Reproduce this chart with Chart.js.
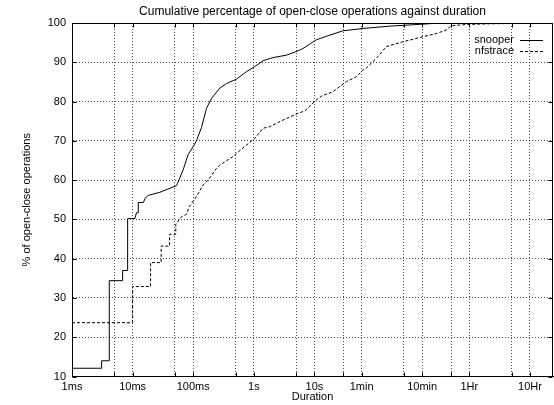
<!DOCTYPE html>
<html><head><meta charset="utf-8">
<script src="https://cdn.jsdelivr.net/npm/chart.js@4/dist/chart.umd.min.js"></script>
<style>html,body{margin:0;padding:0;background:#fff;}</style>
</head><body>
<canvas id="c" width="554" height="405"></canvas>
<script>
// Durations in seconds, percentages cumulative
const snooperDuration = [0.001, 0.00308, 0.00308, 0.00412, 0.00412, 0.00684, 0.00684, 0.00828, 0.00828, 0.0109, 0.0116, 0.0124, 0.0124, 0.0150, 0.0162, 0.0179, 0.0282, 0.0531, 0.0551, 0.0682, 0.0824, 0.0995, 0.113, 0.137, 0.166, 0.200, 0.274, 0.354, 0.516, 0.755, 1.035, 1.42, 2.07, 3.44, 5.35, 6.47, 10.7, 17.8, 29.4, 63.0, 173, 612, 1156, 86400];
const snooperPercent = [12.1, 12.1, 14.0, 14.0, 34.4, 34.4, 37.0, 37.0, 50.2, 50.2, 51.7, 51.7, 54.3, 54.3, 55.4, 56.1, 56.9, 58.6, 59.2, 62.6, 66.5, 68.5, 70.0, 73.4, 78.3, 80.8, 83.4, 84.6, 85.7, 87.6, 88.9, 90.4, 91.2, 91.8, 92.9, 93.5, 95.7, 96.9, 98.0, 98.6, 99.2, 99.7, 100, 100];
const nfstraceDuration = [0.001, 0.01, 0.01, 0.0198, 0.0198, 0.0296, 0.0296, 0.0407, 0.0407, 0.0516, 0.0516, 0.0641, 0.0776, 0.0855, 0.113, 0.146, 0.176, 0.242, 0.274, 0.454, 0.516, 0.855, 1.035, 1.42, 1.83, 3.03, 5.35, 6.90, 10.7, 13.5, 20.2, 33.6, 49.0, 63.0, 71.6, 111, 153, 287, 612, 1019, 1489, 1799, 3177, 7691, 86400];
const nfstracePercent = [23.7, 23.7, 32.9, 32.9, 39.0, 39.0, 43.2, 43.2, 46.2, 46.2, 48.8, 50.7, 51.3, 53.2, 55.8, 58.8, 60.0, 63.0, 63.8, 66.0, 66.8, 69.6, 70.6, 73.2, 73.6, 75.3, 77.0, 77.6, 80.4, 81.5, 82.5, 85.1, 86.3, 88.0, 88.5, 91.4, 94.0, 95.2, 96.5, 97.3, 98.2, 99.3, 99.6, 99.8, 100];

const xTickValues = [0.001, 0.005, 0.01, 0.05, 0.1, 0.5, 1, 5, 10, 30, 60, 300, 600, 1800, 3600, 18000, 36000];
const xTickLabels = ['1ms', '', '10ms', '', '100ms', '', '1s', '', '10s', '', '1min', '', '10min', '', '1Hr', '', '10Hr'];
const xMin = 0.001, xMax = 86400;
const yMin = 10, yMax = 100, yStep = 10;

const seriesNames = ['snooper', 'nfstrace'];
const titleText = 'Cumulative percentage of open-close operations against duration';
const xTitle = 'Duration';
const yTitle = '% of open-close operations';

Chart.defaults.font.family = '"Liberation Sans", Arial, Helvetica, sans-serif';
Chart.defaults.font.size = 11;
Chart.defaults.color = '#000';

const toPoints = (xs, ys) => xs.map((x, i) => ({x: x, y: ys[i]}));

const framePlugin = {
  id: 'frame',
  afterDraw(chart) {
    const ctx = chart.ctx, a = chart.chartArea;
    const xs = chart.scales.x, ys = chart.scales.y;
    ctx.save();
    ctx.strokeStyle = '#000';
    ctx.lineWidth = 1;
    ctx.setLineDash([]);
    const L = Math.round(a.left) + 0.5, R = Math.round(a.right) - 0.5;
    const T = Math.round(a.top) + 0.5, B = Math.round(a.bottom) - 0.5;
    ctx.beginPath();
    ctx.rect(L, T, R - L, B - T);
    ctx.stroke();
    const tl = 4;
    ctx.beginPath();
    xs.ticks.forEach(t => {
      const px = Math.round(xs.getPixelForValue(t.value)) + 0.5;
      ctx.moveTo(px, B); ctx.lineTo(px, B - tl);
      ctx.moveTo(px, T); ctx.lineTo(px, T + tl);
    });
    ys.ticks.forEach(t => {
      const py = Math.round(ys.getPixelForValue(t.value)) + 0.5;
      ctx.moveTo(L, py); ctx.lineTo(L + tl, py);
      ctx.moveTo(R, py); ctx.lineTo(R - tl, py);
    });
    ctx.stroke();
    // title centred over the plot area
    ctx.fillStyle = '#000';
    ctx.font = '12px "Liberation Sans", Arial, sans-serif';
    ctx.textAlign = 'center';
    ctx.textBaseline = 'middle';
    ctx.fillText(titleText, (a.left + a.right) / 2, 12);
    // legend (gnuplot style: right-aligned text with sample line to the right)
    ctx.font = '11px "Liberation Sans", Arial, sans-serif';
    ctx.textAlign = 'right';
    chart.data.datasets.forEach((ds, i) => {
      const y = a.top + 17 + i * 10.5;
      ctx.fillText(ds.label, a.right - 39, y);
      ctx.beginPath();
      ctx.setLineDash(ds.borderDash || []);
      ctx.lineWidth = ds.borderWidth;
      ctx.strokeStyle = ds.borderColor;
      ctx.moveTo(a.right - 33, Math.round(y) + 0.5);
      ctx.lineTo(a.right - 10, Math.round(y) + 0.5);
      ctx.stroke();
    });
    ctx.restore();
  }
};

new Chart(document.getElementById('c'), {
  type: 'line',
  data: {
    datasets: [
      {label: seriesNames[0], data: toPoints(snooperDuration, snooperPercent), borderColor: '#000', borderWidth: 1, pointRadius: 0, tension: 0, fill: false},
      {label: seriesNames[1], data: toPoints(nfstraceDuration, nfstracePercent), borderColor: '#000', borderWidth: 1, borderDash: [3, 2], pointRadius: 0, tension: 0, fill: false}
    ]
  },
  options: {
    responsive: false,
    animation: false,
    devicePixelRatio: 1,
    layout: {padding: {left: 0, right: 1, top: 23, bottom: 0}},
    plugins: {
      legend: {display: false},
      tooltip: {enabled: false},
      title: {display: false}
    },
    scales: {
      x: {
        type: 'logarithmic',
        min: xMin, max: xMax,
        afterBuildTicks: s => { s.ticks = xTickValues.map(v => ({value: v})); },
        afterFit: s => { s.height = 28.5; },
        ticks: {
          autoSkip: false, maxRotation: 0, minRotation: 0, padding: 4, color: '#000',
          callback: (v) => { const i = xTickValues.indexOf(v); return i >= 0 ? xTickLabels[i] : ''; }
        },
        grid: {drawTicks: false, color: 'rgba(0,0,0,0.7)', lineWidth: 1},
        border: {display: true, color: '#000', dash: [1, 2]},
        title: {display: true, text: xTitle, color: '#000', font: {size: 11}, padding: {top: 0, bottom: 1}}
      },
      y: {
        type: 'linear',
        min: yMin, max: yMax,
        ticks: {stepSize: yStep, padding: 6, color: '#000'},
        afterFit: s => { s.width = 72; },
        grid: {drawTicks: false, color: 'rgba(0,0,0,0.7)', lineWidth: 1},
        border: {display: true, color: '#000', dash: [1, 2]},
        title: {display: true, text: yTitle, color: '#000', font: {size: 11}, padding: {top: 20, bottom: 0}}
      }
    }
  },
  plugins: [framePlugin]
});
</script>
</body></html>
